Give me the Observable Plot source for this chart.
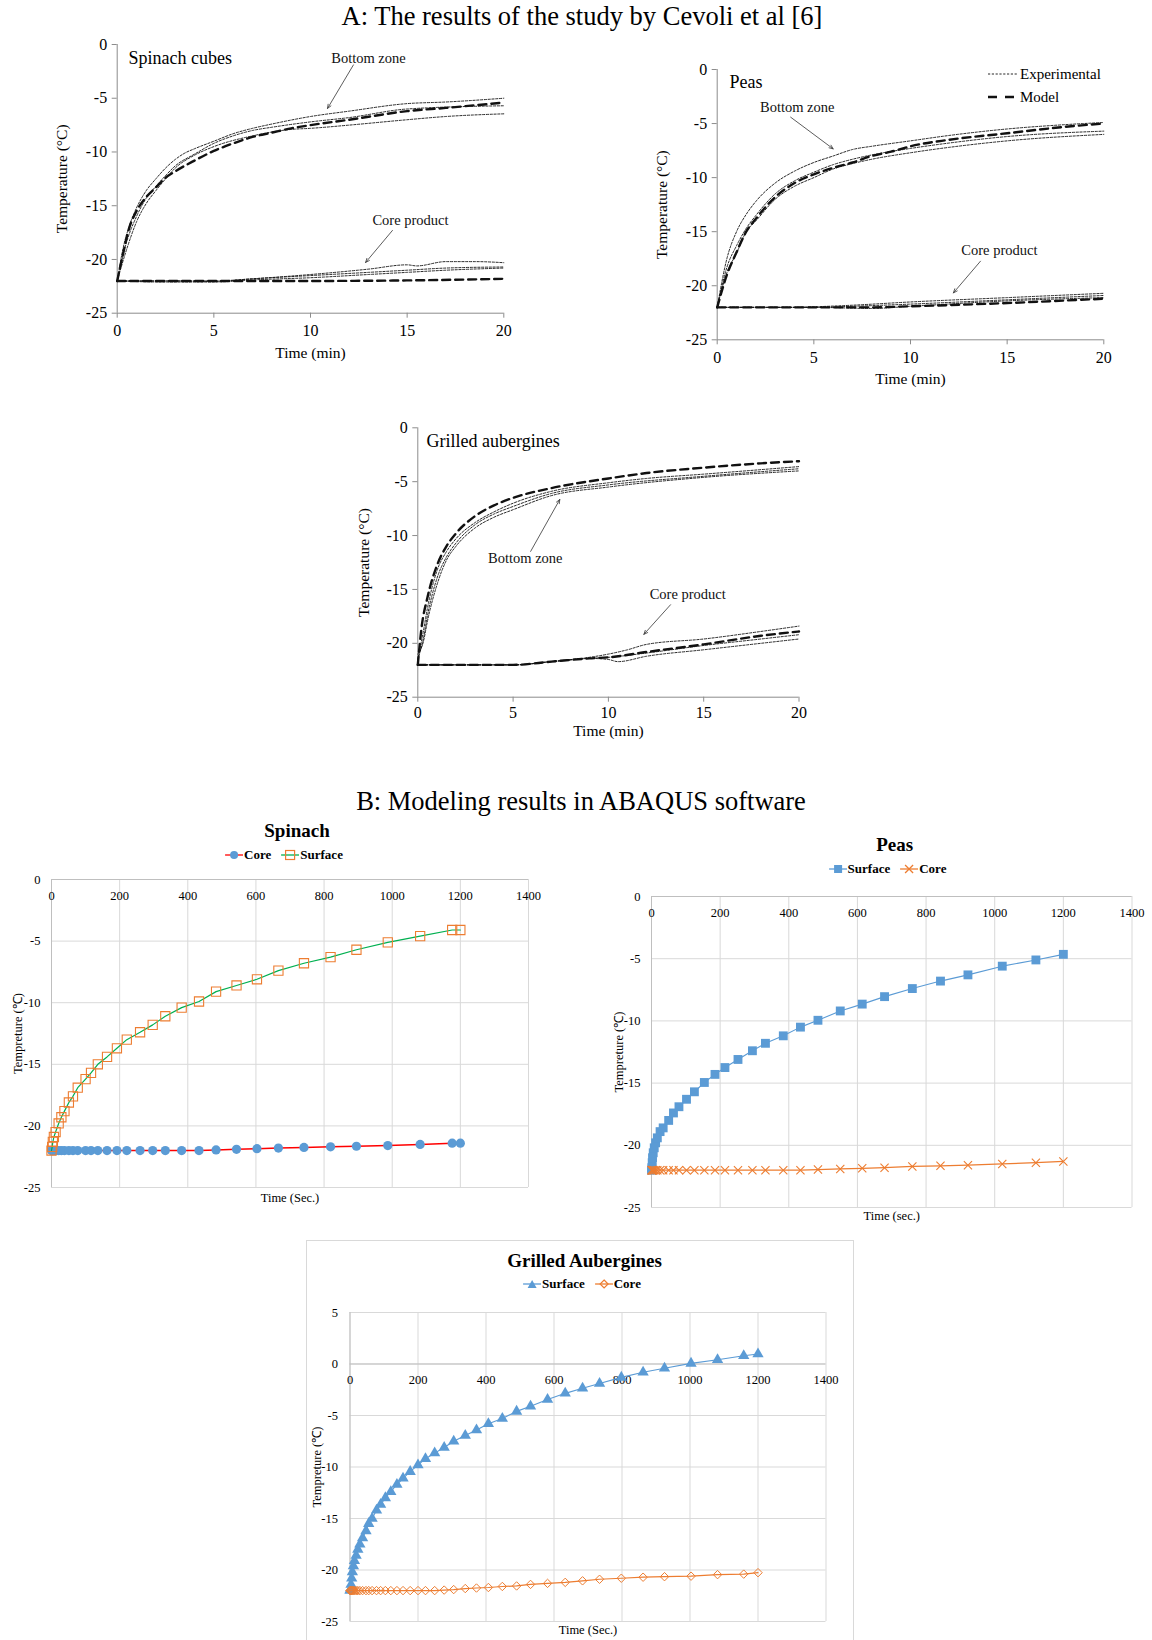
<!DOCTYPE html>
<html><head><meta charset="utf-8">
<script src="https://cdn.jsdelivr.net/npm/d3@7"></script>
<script src="https://cdn.jsdelivr.net/npm/@observablehq/plot@0.6"></script>
<style>
body{margin:0;background:#fff;}
#page{position:relative;width:1152px;height:1640px;overflow:hidden;font-family:"Liberation Serif","Times New Roman",serif;color:#000;}
.title{position:absolute;font-size:26.5px;white-space:nowrap;transform:translate(-50%,-50%);}
.btitle{position:absolute;font-weight:bold;font-size:19px;white-space:nowrap;transform:translate(-50%,-50%);}
.legend{position:absolute;font-weight:bold;font-size:13px;white-space:nowrap;transform:translate(-50%,-50%);display:flex;align-items:center;gap:10px;}
.legend .item{display:flex;align-items:center;gap:1px;}
.alegend{position:absolute;font-size:15px;white-space:nowrap;}
.alegend .row{display:flex;align-items:center;height:23px;gap:2px;}
</style></head>
<body><div id="page"></div>
<script>
// ---------- tick labels ----------
const aTicksX = [0, 5, 10, 15, 20];
const aTicksY = [0, -5, -10, -15, -20, -25];
const bTicksX = [0, 200, 400, 600, 800, 1000, 1200, 1400];
const bTicksY = [0, -5, -10, -15, -20, -25];
const b3TicksY = [5, 0, -5, -10, -15, -20, -25];

// ---------- A: Spinach cubes (time min, temperature °C) ----------
const spinachBottomExp1 = [[0,-22],[0.3,-19],[0.7,-16.5],[1,-15.2],[1.5,-13.6],[2,-12.5],[2.5,-11.5],[3,-10.7],[3.5,-10.1],[4,-9.7],[5,-9.0],[6,-8.3],[7,-7.8],[8,-7.4],[10,-6.7],[12,-6.2],[15,-5.5],[17,-5.35],[20,-5.0]];
const spinachBottomExp2 = [[0,-22],[0.5,-18.3],[1,-16],[1.5,-14.3],[2,-13.2],[2.5,-12.2],[3,-11.3],[4,-10.2],[5,-9.2],[6,-8.5],[7,-8.0],[8,-7.7],[10,-7.2],[12,-6.8],[15,-6.0],[20,-5.7]];
const spinachBottomExp3 = [[0,-22],[0.5,-19],[1,-16.5],[1.5,-14.8],[2,-13.6],[2.5,-12.5],[3,-11.5],[4,-10.3],[5,-9.5],[7,-8.5],[9,-7.9],[10,-7.8],[12,-7.5],[15,-7.0],[17,-6.7],[20,-6.45]];
const spinachBottomModel = [[0,-22],[0.3,-19.5],[0.6,-17.2],[1,-15.5],[1.5,-14.2],[2,-13.3],[2.5,-12.4],[3,-11.8],[4,-10.8],[5,-9.9],[6,-9.2],[7,-8.6],[8,-8.2],[9,-7.8],[10,-7.5],[12,-7.0],[15,-6.2],[17,-5.9],[20,-5.4]];
const spinachCoreExp1 = [[0,-22],[3,-22],[5,-22],[7,-21.8],[10,-21.4],[13,-20.9],[15,-20.5],[15.5,-20.6],[17,-20.2],[18.5,-20.2],[20,-20.3]];
const spinachCoreExp2 = [[0,-22],[3,-22],[5,-22.05],[7,-21.8],[10,-21.5],[13,-21.2],[15,-21.0],[17,-20.8],[20,-20.7]];
const spinachCoreExp3 = [[0,-22],[2.5,-22.1],[5,-22.1],[7,-21.9],[10,-21.7],[13,-21.4],[15,-21.2],[17,-21.0],[20,-20.8]];
const spinachCoreModel = [[0,-22],[5,-22],[10,-22],[15,-21.95],[20,-21.8]];
const spinachNotes = [{x:13.0,y:-1.27,text:"Bottom zone"},{x:15.17,y:-16.37,text:"Core product"}];
const spinachArrows = [{x1:12.22,y1:-1.9,x2:10.88,y2:-5.95},{x1:14.24,y1:-17.3,x2:12.85,y2:-20.28}];
const spinachName = [{x:0.58,y:-1.3,text:"Spinach cubes"}];

// ---------- A: Peas ----------
const peasBottomExp1 = [[0,-22],[0.5,-17.5],[1,-15.0],[1.5,-13.4],[2,-12.2],[3,-10.5],[4,-9.4],[5,-8.6],[6,-8.0],[7,-7.4],[8,-7.1],[10,-6.6],[12,-6.1],[15,-5.5],[18,-5.1],[20,-4.9]];
const peasBottomExp2 = [[0,-22],[0.5,-18.3],[1,-16.3],[1.5,-14.7],[2,-13.5],[3,-11.5],[4,-10.3],[5,-9.5],[6,-8.8],[7,-8.3],[8,-7.9],[10,-7.3],[12,-6.8],[15,-6.2],[20,-5.7]];
const peasBottomExp3 = [[0,-22],[0.5,-18.8],[1,-17],[1.5,-15],[2,-14],[3,-12],[4,-10.8],[5,-10.0],[6,-9.2],[7,-8.7],[8,-8.3],[10,-7.7],[12,-7.2],[15,-6.6],[20,-6.0]];
const peasBottomModel = [[0,-22],[0.5,-19],[1,-16.9],[1.5,-15],[2,-13.8],[3,-11.8],[4,-10.5],[5,-9.7],[6,-9.1],[7,-8.6],[8,-8.0],[9,-7.6],[10,-7.1],[12,-6.5],[15,-5.9],[18,-5.3],[20,-5.0]];
const peasCoreExp1 = [[0,-22],[4,-22],[5,-21.95],[7,-21.8],[10,-21.5],[15,-21.1],[20,-20.7]];
const peasCoreExp2 = [[0,-22],[5,-22],[7,-21.9],[10,-21.7],[15,-21.3],[20,-20.9]];
const peasCoreExp3 = [[0,-22],[5,-22],[8,-22.1],[10,-21.9],[15,-21.4],[20,-21.1]];
const peasCoreModel = [[0,-22],[3,-22],[5,-22],[8,-22],[10,-21.9],[15,-21.6],[20,-21.2]];
const peasNotes = [{x:4.14,y:-3.49,text:"Bottom zone"},{x:14.6,y:-16.74,text:"Core product"}];
const peasArrows = [{x1:3.8,y1:-4.41,x2:6.0,y2:-7.34},{x1:13.62,y1:-17.73,x2:12.22,y2:-20.66}];
const peasName = [{x:0.64,y:-1.2,text:"Peas"}];

// ---------- A: Grilled aubergines ----------
const augBottomExp1 = [[0,-21.5],[0.3,-18.8],[0.5,-16.8],[1,-13.3],[1.5,-11.5],[2,-10.3],[3,-8.8],[4,-7.8],[5,-7.0],[7,-5.9],[10,-5.1],[12,-4.7],[15,-4.3],[20,-3.6]];
const augBottomExp2 = [[0,-21.5],[0.3,-19.5],[0.5,-17.5],[1,-14],[1.5,-12],[2,-10.7],[3,-9.0],[4,-8.0],[5,-7.3],[7,-6.1],[10,-5.3],[15,-4.5],[20,-3.8]];
const augBottomExp3 = [[0,-21],[0.3,-19.8],[0.5,-18],[1,-14.6],[1.5,-12.3],[2,-11],[3,-9.3],[4,-8.3],[5,-7.6],[7,-6.3],[10,-5.5],[15,-4.6],[20,-4.0]];
const augBottomModel = [[0,-22],[0.2,-18.5],[0.5,-15.8],[1,-12.8],[1.5,-11.0],[2,-9.8],[3,-8.2],[4,-7.2],[5,-6.5],[7,-5.6],[10,-4.7],[12,-4.2],[15,-3.7],[18,-3.3],[20,-3.1]];
const augCoreExp1 = [[0,-22],[5,-22],[7,-21.7],[9,-21.3],[10,-21.0],[11,-20.6],[12,-20.1],[15,-19.6],[18,-18.9],[20,-18.4]];
const augCoreExp2 = [[0,-22],[5,-22],[7,-21.7],[9,-21.4],[10,-21.3],[12,-20.9],[15,-20.2],[18,-19.6],[20,-19.2]];
const augCoreExp3 = [[0,-22],[5,-22],[7,-21.7],[9,-21.4],[10,-21.5],[10.5,-21.7],[12,-21.2],[15,-20.6],[18,-20.0],[20,-19.6]];
const augCoreModel = [[0,-22],[5,-22],[7,-21.7],[9,-21.4],[10,-21.3],[12,-20.8],[15,-20.1],[18,-19.3],[20,-18.9]];
const augNotes = [{x:5.64,y:-12.15,text:"Bottom zone"},{x:14.16,y:-15.49,text:"Core product"}];
const augArrows = [{x1:5.92,y1:-11.47,x2:7.45,y2:-6.65},{x1:13.26,y1:-16.42,x2:11.86,y2:-19.17}];
const augName = [{x:0.46,y:-1.24,text:"Grilled aubergines"}];

// ---------- B: Spinach (time s, temperature °C) ----------
const spinachTimes = [0,2,4,7,12,21,29,38,51,63,77,100,116,136,163,192,221,260,297,334,382,433,483,543,603,666,741,819,895,987,1082,1176,1200];
const spinachSurface = [-22,-21.7,-21.3,-20.9,-20.5,-19.8,-19.3,-18.8,-18.1,-17.6,-16.9,-16.2,-15.7,-15.0,-14.4,-13.7,-13.0,-12.4,-11.8,-11.1,-10.4,-9.9,-9.1,-8.6,-8.1,-7.4,-6.8,-6.3,-5.7,-5.1,-4.6,-4.1,-4.1];
const spinachCore = [-22,-22,-22,-22,-22,-22,-22,-22,-22,-22,-22,-22,-22,-22,-22,-22,-22,-22,-22,-22,-22,-22,-21.95,-21.9,-21.85,-21.8,-21.75,-21.7,-21.65,-21.6,-21.5,-21.4,-21.4];

// ---------- B: Peas ----------
const peasTimes = [0,1,2,3,5,8,12,17,25,34,50,64,80,102,125,154,185,214,252,294,332,384,434,485,550,614,679,760,842,922,1022,1120,1200];
const peasSurface = [-22,-21.8,-21.4,-21.0,-20.6,-20.2,-19.8,-19.4,-18.9,-18.6,-18.0,-17.4,-16.9,-16.3,-15.7,-14.95,-14.3,-13.75,-13.1,-12.4,-11.8,-11.2,-10.5,-9.95,-9.2,-8.65,-8.05,-7.4,-6.8,-6.3,-5.6,-5.1,-4.65];
const peasCore = [-22,-22,-22,-22,-22,-22,-22,-22,-22,-22,-22,-22,-22,-22,-22,-22,-22,-22,-22,-22,-22,-22,-22,-21.95,-21.9,-21.85,-21.8,-21.7,-21.65,-21.6,-21.5,-21.4,-21.3];

// ---------- B: Grilled Aubergines ----------
const augTimes = [0,1,3,5,7,10,13,18,23,29,37,47,55,65,78,90,104,120,138,156,177,200,222,249,277,305,339,372,407,448,490,531,581,633,684,734,798,862,925,1003,1081,1158,1200];
const augSurface = [-22,-21.9,-21.4,-20.8,-20.2,-19.6,-19.1,-18.6,-18.0,-17.5,-16.9,-16.2,-15.5,-15.0,-14.2,-13.65,-13.0,-12.4,-11.7,-11.1,-10.45,-9.8,-9.2,-8.65,-8.1,-7.5,-6.95,-6.4,-5.8,-5.3,-4.6,-4.1,-3.45,-2.85,-2.35,-1.9,-1.3,-0.8,-0.42,0.06,0.42,0.8,0.97];
const augCore = [-22,-22,-22,-22,-22,-22,-22,-22,-22,-22,-22,-22,-22,-22,-22,-22,-22,-22,-22,-22,-22,-22,-22,-22,-21.95,-21.9,-21.8,-21.75,-21.7,-21.6,-21.55,-21.4,-21.3,-21.2,-21.05,-20.9,-20.8,-20.7,-20.65,-20.6,-20.45,-20.4,-20.26];

// ---------- helpers ----------
const page = document.getElementById("page");
function place(el, left, top, w, h) {
  const d = document.createElement("div");
  d.style.position = "absolute"; d.style.left = left + "px"; d.style.top = top + "px";
  if (w) d.style.width = w + "px"; if (h) d.style.height = h + "px";
  d.appendChild(el); page.appendChild(d); return d;
}
function textDiv(cls, text, x, y) {
  const d = document.createElement("div"); d.className = cls; d.textContent = text;
  d.style.left = x + "px"; d.style.top = y + "px"; page.appendChild(d); return d;
}
const pairs = (t, v) => t.map((x, i) => ({t: x, v: v[i]}));
const baseStyle = {fontFamily: "'Liberation Serif','Times New Roman',serif", fontSize: "16px", background: "transparent", overflow: "visible", maxWidth: "none", color: "#000"};

function panelA(c) {
  const axisGray = "#8c8c8c";
  const marks = [
    Plot.ruleX([0], {stroke: axisGray}),
    Plot.ruleY([-25], {stroke: axisGray}),
    Plot.axisX({ticks: aTicksX, tickSize: 5, tickPadding: c.xPad, stroke: axisGray, fill: "#000", tickFormat: d => String(d), fontSize: 16, label: null}),
    Plot.axisY({ticks: aTicksY, tickSize: 5, tickPadding: 5, stroke: axisGray, fill: "#000", tickFormat: d => String(d), fontSize: 16, label: null})
  ];
  for (const s of c.exp) marks.push(Plot.line(s, {x: d => d[0], y: d => d[1], stroke: "#111", strokeWidth: 0.9, strokeDasharray: "2.2,1.6", curve: "monotone-x"}));
  for (const s of c.model) marks.push(Plot.line(s, {x: d => d[0], y: d => d[1], stroke: "#111", strokeWidth: 2.4, strokeDasharray: "8,5", curve: "monotone-x"}));
  marks.push(Plot.text(c.notes, {x: "x", y: "y", text: "text", fontSize: 14.5, fill: "#111"}));
  marks.push(Plot.arrow(c.arrows, {x1: "x1", y1: "y1", x2: "x2", y2: "y2", stroke: "#333", strokeWidth: 0.8, headLength: 8, headAngle: 45}));
  marks.push(Plot.text(c.name, {x: "x", y: "y", text: "text", fontSize: 18, textAnchor: "start"}));
  marks.push(Plot.text(["Temperature (°C)"], {frameAnchor: "left", dx: c.ylDx, rotate: -90, textAnchor: "middle", lineAnchor: "middle", text: d => d, fontSize: 15.5}));
  marks.push(Plot.text(["Time (min)"], {frameAnchor: "bottom", dy: c.xlDy, textAnchor: "middle", lineAnchor: "middle", text: d => d, fontSize: 15.5}));
  const svg = Plot.plot({
    width: c.w, height: c.h, marginLeft: c.mL, marginRight: c.mR, marginTop: c.mT, marginBottom: c.mB,
    x: {domain: [0, 20]}, y: {domain: [-25, 0]}, style: baseStyle, marks
  });
  place(svg, c.left, c.top, c.w, c.h);
}

function panelB(c) {
  const marks = [
    Plot.gridX({ticks: bTicksX, stroke: "#d9d9d9", strokeOpacity: 1}),
    Plot.gridY({ticks: c.yTicks, stroke: "#d9d9d9", strokeOpacity: 1}),
    Plot.ruleX([0], {stroke: "#bfbfbf"}),
    Plot.ruleY([0], {stroke: "#bfbfbf"}),
    Plot.axisY({ticks: c.yTicks, tickSize: 0, tickPadding: c.pad, tickFormat: d => String(d), fontSize: 12.5, label: null}),
    Plot.text(bTicksX, {x: d => d, y: () => 0, dy: 16, text: d => String(d), fontSize: 12.5})
  ];
  for (const s of c.series) {
    marks.push(Plot.line(s.data, {x: "t", y: "v", stroke: s.line, strokeWidth: s.lw}));
    marks.push(Plot.dot(s.data, {x: "t", y: "v", symbol: s.symbol, r: s.r, fill: s.fill, stroke: s.stroke, strokeWidth: s.sw}));
  }
  marks.push(Plot.text(["Tempreture (℃)"], {frameAnchor: "left", dx: c.ylDx, rotate: -90, textAnchor: "middle", lineAnchor: "middle", text: d => d, fontSize: 12.5}));
  marks.push(Plot.text([c.xLabel], {frameAnchor: "bottom", dy: c.xlDy, textAnchor: "middle", lineAnchor: "middle", text: d => d, fontSize: 12.5}));
  const svg = Plot.plot({
    width: c.w, height: c.h, marginLeft: c.mL, marginRight: c.mR, marginTop: c.mT, marginBottom: c.mB,
    x: {domain: [0, 1400], axis: null}, y: {domain: c.yDomain}, style: {...baseStyle, fontSize: "12.5px"}, marks
  });
  place(svg, c.left, c.top, c.w, c.h);
}

// legend sample symbols for the B charts
function sym(kind, line, color) {
  const ns = "http://www.w3.org/2000/svg";
  const s = document.createElementNS(ns, "svg");
  s.setAttribute("width", 18); s.setAttribute("height", 12);
  let inner = `<line x1="0" y1="6" x2="18" y2="6" stroke="${line}" stroke-width="1.3"/>`;
  if (kind === "circle") inner += `<circle cx="9" cy="6" r="4" fill="${color}"/>`;
  if (kind === "square-open") inner += `<rect x="4.5" y="1.5" width="9" height="9" fill="none" stroke="${color}" stroke-width="1.2"/>`;
  if (kind === "square") inner += `<rect x="5" y="2" width="8" height="8" fill="${color}"/>`;
  if (kind === "times") inner += `<path d="M5 2L13 10M13 2L5 10" stroke="${color}" stroke-width="1.3"/>`;
  if (kind === "triangle") inner += `<path d="M9 2L13.5 10H4.5Z" fill="${color}"/>`;
  if (kind === "diamond-open") inner += `<path d="M9 2L13 6L9 10L5 6Z" fill="none" stroke="${color}" stroke-width="1.2"/>`;
  s.innerHTML = inner; return s;
}
function bLegend(items, x, y) {
  const d = document.createElement("div"); d.className = "legend";
  d.style.left = x + "px"; d.style.top = y + "px";
  for (const it of items) {
    const i = document.createElement("div"); i.className = "item";
    i.appendChild(sym(it.kind, it.line, it.color));
    const t = document.createElement("span"); t.textContent = it.label; i.appendChild(t);
    d.appendChild(i);
  }
  page.appendChild(d);
}

// ---------- titles ----------
textDiv("title", "A: The results of the study by Cevoli et al [6]", 582, 16);
textDiv("title", "B: Modeling results in ABAQUS software", 581, 801);

// ---------- A panels ----------
panelA({left: 0, top: 30, w: 520, h: 340, mL: 116.7, mR: 16.7, mT: 14, mB: 57.3, ylDx: -55, xlDy: 40.3, xPad: 6.5,
  exp: [spinachBottomExp1, spinachBottomExp2, spinachBottomExp3, spinachCoreExp1, spinachCoreExp2, spinachCoreExp3],
  model: [spinachBottomModel, spinachCoreModel], notes: spinachNotes, arrows: spinachArrows, name: spinachName});
panelA({left: 600, top: 50, w: 540, h: 345, mL: 116.7, mR: 36.7, mT: 19, mB: 55.7, ylDx: -55, xlDy: 39.7, xPad: 6.5,
  exp: [peasBottomExp1, peasBottomExp2, peasBottomExp3, peasCoreExp1, peasCoreExp2, peasCoreExp3],
  model: [peasBottomModel, peasCoreModel], notes: peasNotes, arrows: peasArrows, name: peasName});
panelA({left: 300, top: 400, w: 520, h: 340, mL: 117.3, mR: 21.5, mT: 27.3, mB: 43.3, ylDx: -54, xlDy: 34, xPad: 4.5,
  exp: [augBottomExp1, augBottomExp2, augBottomExp3, augCoreExp1, augCoreExp2, augCoreExp3],
  model: [augBottomModel, augCoreModel], notes: augNotes, arrows: augArrows, name: augName});

// legend for A (Peas panel)
(function () {
  const d = document.createElement("div"); d.className = "alegend";
  d.style.left = "988px"; d.style.top = "62.5px";
  d.innerHTML =
    `<div class="row"><svg width="30" height="6"><line x1="0" y1="3" x2="30" y2="3" stroke="#111" stroke-width="0.9" stroke-dasharray="2.2,1.6"/></svg><span>Experimental</span></div>` +
    `<div class="row"><svg width="30" height="6"><line x1="0" y1="3" x2="28" y2="3" stroke="#111" stroke-width="2.4" stroke-dasharray="9,8"/></svg><span>Model</span></div>`;
  page.appendChild(d);
})();

// ---------- B panels ----------
textDiv("btitle", "Spinach", 297, 831);
bLegend([{kind: "circle", line: "#ff0000", color: "#5b9bd5", label: "Core"}, {kind: "square-open", line: "#00b050", color: "#ed7d31", label: "Surface"}], 284, 855);
panelB({left: 0, top: 870, w: 545, h: 347, mL: 51, mR: 17, mT: 9, mB: 30, ylDx: -33.3, xlDy: 10, pad: 11,
  yTicks: bTicksY, yDomain: [-25, 0], xLabel: "Time (Sec.)",
  series: [
    {data: pairs(spinachTimes, spinachCore), line: "#ff0000", lw: 1.5, symbol: "circle", r: 4.6, fill: "#5b9bd5", stroke: "none", sw: 0},
    {data: pairs(spinachTimes, spinachSurface), line: "#00b050", lw: 1.2, symbol: "square", r: 5.2, fill: "none", stroke: "#ed7d31", sw: 1.1}
  ]});

textDiv("btitle", "Peas", 894.6, 844.5);
bLegend([{kind: "square", line: "#5b9bd5", color: "#5b9bd5", label: "Surface"}, {kind: "times", line: "#ed7d31", color: "#ed7d31", label: "Core"}], 887.5, 868.5);
panelB({left: 600, top: 885, w: 545, h: 345, mL: 51, mR: 13.5, mT: 11, mB: 23, ylDx: -33, xlDy: 8, pad: 11,
  yTicks: bTicksY, yDomain: [-25, 0], xLabel: "Time (sec.)",
  series: [
    {data: pairs(peasTimes, peasSurface), line: "#5b9bd5", lw: 1.1, symbol: "square", r: 5, fill: "#5b9bd5", stroke: "none", sw: 0},
    {data: pairs(peasTimes, peasCore), line: "#ed7d31", lw: 1.3, symbol: "times", r: 3.8, fill: "none", stroke: "#ed7d31", sw: 1.1}
  ]});

(function () {
  const b = document.createElement("div");
  b.style.cssText = "position:absolute;left:306px;top:1240px;width:548px;height:420px;border:1px solid #d9d9d9;box-sizing:border-box;";
  page.appendChild(b);
})();
textDiv("btitle", "Grilled Aubergines", 584.6, 1261);
bLegend([{kind: "triangle", line: "#5b9bd5", color: "#5b9bd5", label: "Surface"}, {kind: "diamond-open", line: "#ed7d31", color: "#ed7d31", label: "Core"}], 582, 1284);
panelB({left: 306, top: 1300, w: 548, h: 340, mL: 43.5, mR: 28.5, mT: 12, mB: 19, ylDx: -33.5, xlDy: 8.5, pad: 12,
  yTicks: b3TicksY, yDomain: [-25, 5], xLabel: "Time (Sec.)",
  series: [
    {data: pairs(augTimes, augSurface), line: "#5b9bd5", lw: 1.1, symbol: "triangle", r: 4.2, fill: "#5b9bd5", stroke: "none", sw: 0},
    {data: pairs(augTimes, augCore), line: "#ed7d31", lw: 1.2, symbol: "diamond2", r: 3.8, fill: "none", stroke: "#ed7d31", sw: 1}
  ]});
</script></body></html>
